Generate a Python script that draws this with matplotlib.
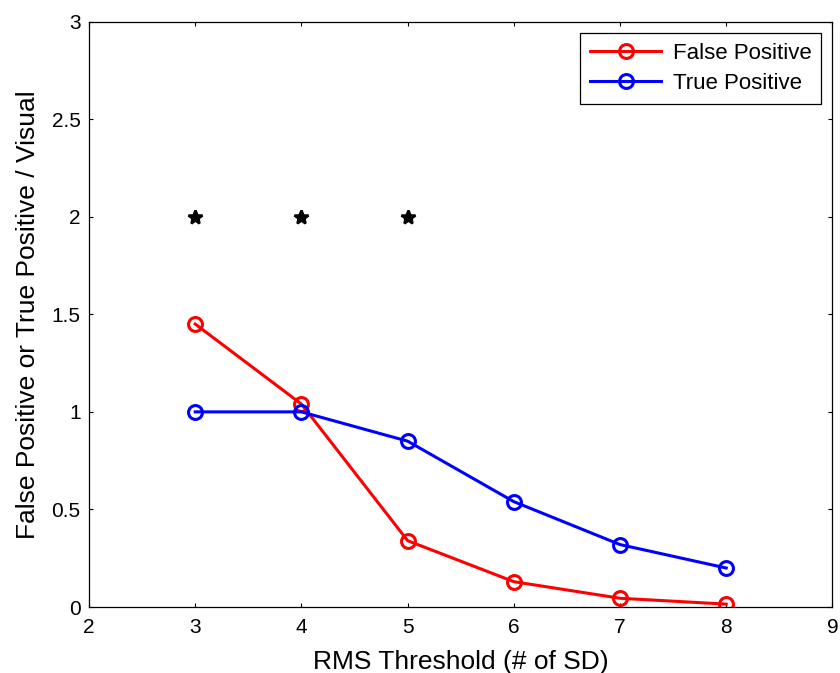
import matplotlib
matplotlib.use("Agg")
import matplotlib.pyplot as plt

plt.rcParams['font.family'] = ['Liberation Sans', 'DejaVu Sans']

# data
thresholds = [3, 4, 5, 6, 7, 8]
false_pos = [1.45, 1.04, 0.34, 0.13, 0.045, 0.015]
true_pos = [1.0, 1.0, 0.85, 0.54, 0.32, 0.20]
visual_x = [3, 4, 5]
visual_y = [2, 2, 2]

fig = plt.figure(figsize=(8.4, 6.73), dpi=100)
ax = fig.add_axes([0.106, 0.098, 0.885, 0.870])

ax.plot(thresholds, false_pos, '-o', color='red', lw=2.2, ms=10, mew=2.2,
        mfc='none', label='False Positive')
ax.plot(thresholds, true_pos, '-o', color='blue', lw=2.2, ms=10, mew=2.2,
        mfc='none', label='True Positive')
ax.plot(visual_x, visual_y, '*', color='black', ms=10, mew=1.8, ls='none')

ax.set_xlim(2, 9)
ax.set_ylim(0, 3)
ax.set_xticks(range(2, 10))
ax.set_yticks([0, 0.5, 1, 1.5, 2, 2.5, 3])
ax.set_yticklabels(['0', '0.5', '1', '1.5', '2', '2.5', '3'])
ax.tick_params(direction='in', top=True, right=True, labelsize=15, length=3,
               width=0.8)
ax.tick_params(axis='x', pad=8)
ax.tick_params(axis='y', pad=6)
for s in ax.spines.values():
    s.set_linewidth(0.9)

ax.set_xlabel('RMS Threshold (# of SD)', fontsize=19, labelpad=9)
ax.set_ylabel('False Positive or True Positive / Visual', fontsize=19,
              labelpad=8)

leg = ax.legend(loc='upper right', fontsize=16, fancybox=False,
                edgecolor='black', framealpha=1, borderaxespad=0.5,
                handlelength=3.2, handletextpad=0.5, borderpad=0.45,
                labelspacing=0.4)
leg.get_frame().set_linewidth(0.9)

fig.savefig('out.png', dpi=100)
